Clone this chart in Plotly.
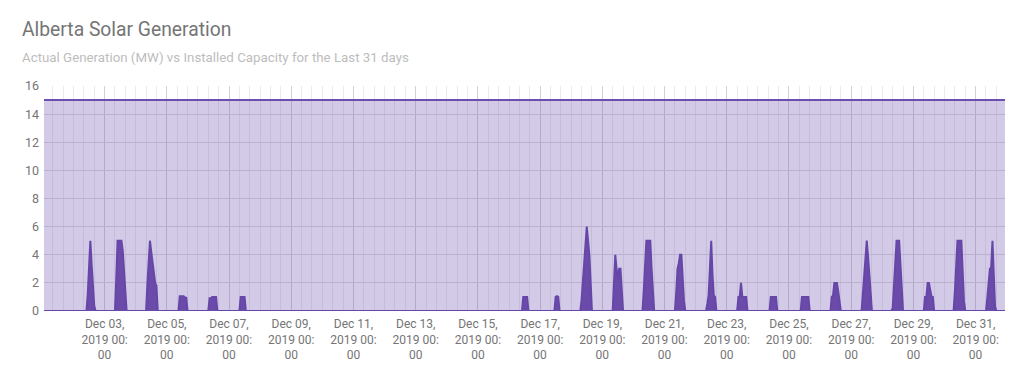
import pandas as pd
import plotly.graph_objects as go

# ---- data ----
capacity_mw = 15

gen_dates = ["2019-12-02", "2019-12-03", "2019-12-04", "2019-12-05", "2019-12-06",
             "2019-12-07", "2019-12-16", "2019-12-17", "2019-12-18", "2019-12-19",
             "2019-12-20", "2019-12-21", "2019-12-22", "2019-12-23", "2019-12-24",
             "2019-12-25", "2019-12-26", "2019-12-27", "2019-12-28", "2019-12-29",
             "2019-12-30", "2019-12-31"]
gen_start_hour = [11, 9, 9, 10, 9,
                  9, 11, 12, 8, 9,
                  8, 9, 9, 9, 10,
                  10, 9, 9, 8, 9,
                  8, 9]
gen_values = [
    [1.2, 3, 5, 3.3, 1.3, 0.4],
    [2.3, 5, 5, 5, 5, 4.3, 2.9, 1.5],
    [1.9, 3.3, 5, 4.2, 3.3, 2.4, 2, 1.8],
    [1.05, 1.05, 1.05, 1.05, 0.95, 0.95],
    [0.9, 0.9, 1.0, 1.0, 1.0, 1.0],
    [1, 1, 1, 1],
    [1, 1, 1, 1],
    [1, 1.05, 1],
    [0.8, 2, 3.3, 4.6, 6, 5, 4, 2],
    [2, 4, 3, 2.3, 3, 3, 1.5],
    [1.5, 3.7, 5, 5, 5, 5, 3, 1],
    [1.3, 3, 3.4, 4, 4, 2.3, 0.7],
    [0.5, 1.1, 3, 5, 2.6, 1.1, 1],
    [1, 1, 2, 1, 1, 1, 1],
    [1, 1, 1, 1, 1],
    [1, 1, 1, 1, 1, 1],
    [1, 1.1, 2, 2, 2, 1.4, 0.6],
    [1.2, 2.3, 3.6, 5, 3.9, 2.5, 1.2],
    [0.2, 1.8, 3.5, 5, 5, 5, 3.3, 1.5],
    [1, 1, 2, 2, 1.5, 1, 1],
    [1.4, 3.7, 5, 5, 5, 5, 2.8, 0.7],
    [0.9, 2.2, 3, 3.1, 5, 2.6, 0.3],
]

tick_dates = ["2019-12-03", "2019-12-05", "2019-12-07", "2019-12-09", "2019-12-11",
              "2019-12-13", "2019-12-15", "2019-12-17", "2019-12-19", "2019-12-21",
              "2019-12-23", "2019-12-25", "2019-12-27", "2019-12-29", "2019-12-31"]
tick_labels = ["Dec 03,<br>2019 00:<br>00", "Dec 05,<br>2019 00:<br>00",
               "Dec 07,<br>2019 00:<br>00", "Dec 09,<br>2019 00:<br>00",
               "Dec 11,<br>2019 00:<br>00", "Dec 13,<br>2019 00:<br>00",
               "Dec 15,<br>2019 00:<br>00", "Dec 17,<br>2019 00:<br>00",
               "Dec 19,<br>2019 00:<br>00", "Dec 21,<br>2019 00:<br>00",
               "Dec 23,<br>2019 00:<br>00", "Dec 25,<br>2019 00:<br>00",
               "Dec 27,<br>2019 00:<br>00", "Dec 29,<br>2019 00:<br>00",
               "Dec 31,<br>2019 00:<br>00"]

# ---- build hourly series ----
hours = pd.date_range("2019-12-01 00:00", "2019-12-31 23:00", freq="h")
gen = pd.Series(0.0, index=hours)
for d, h0, vals in zip(gen_dates, gen_start_hour, gen_values):
    base = pd.Timestamp(d)
    for i, v in enumerate(vals):
        gen[base + pd.Timedelta(hours=h0 + i)] = v
cap = pd.Series(float(capacity_mw), index=hours)

FONT = "Roboto, Arial, sans-serif"
# the page body has an 8px default margin, so the figure sits at (8, 8)
OFF = 8
W, H = 1024 - 2 * OFF, 379 - 2 * OFF
plot_left, plot_right, plot_top, plot_bottom = 44 - OFF, 1005 - OFF, 86 - OFF, 311 - OFF
L, R, T, B = plot_left, W - plot_right, plot_top, H - plot_bottom
PW, PH = plot_right - plot_left, plot_bottom - plot_top

fig = go.Figure()
fig.add_trace(go.Scatter(
    x=hours, y=cap, mode="lines", name="Installed Capacity",
    line=dict(color="#6a4fb0", width=2), fill="tozeroy",
    fillcolor="rgba(105,80,175,0.30)", hoverinfo="skip"))
fig.add_trace(go.Scatter(
    x=hours, y=gen.values, mode="lines", name="Actual Generation",
    line=dict(color="#6647a8", width=2), fill="tozeroy",
    fillcolor="rgba(98,64,165,0.92)"))

fig.update_layout(
    width=W, height=H,
    margin=dict(l=L, r=R, t=T, b=B, autoexpand=False),
    paper_bgcolor="white", plot_bgcolor="white",
    showlegend=False,
    font=dict(family=FONT, color="#757575", size=12),
    xaxis=dict(
        type="date", automargin=False,
        range=["2019-12-01 01:15", "2019-12-31 22:40"],
        tickmode="array", tickvals=tick_dates, ticktext=tick_labels,
        showgrid=True, gridcolor="#d2d2d2", gridwidth=1,
        minor=dict(tickmode="linear", tick0="2019-12-01", dtick=8 * 3600 * 1000,
                   showgrid=True, gridcolor="#ebebeb", gridwidth=1),
        zeroline=False, showline=False, ticks="",
        tickfont=dict(family=FONT, size=12, color="#757575"),
        ticklabelstandoff=4,
    ),
    yaxis=dict(
        automargin=False,
        range=[0, 16], dtick=2, tick0=0,
        showgrid=True, gridcolor="#dcdcdc", gridwidth=1,
        zeroline=False, showline=False, ticks="",
        tickfont=dict(family=FONT, size=12.5, color="#757575"),
        ticklabelstandoff=4,
    ),
    annotations=[
        dict(text="Alberta Solar Generation", xref="paper", yref="paper",
             x=(20 - OFF - L) / PW, y=(plot_bottom - (30 - OFF)) / PH,
             xanchor="left", yanchor="middle",
             showarrow=False, font=dict(family=FONT, size=19.3, color="#757575")),
        dict(text="Actual Generation (MW) vs Installed Capacity for the Last 31 days",
             xref="paper", yref="paper",
             x=(20 - OFF - L) / PW, y=(plot_bottom - (57 - OFF)) / PH,
             xanchor="left", yanchor="middle",
             showarrow=False, font=dict(family=FONT, size=13.3, color="#bdbdbd")),
    ],
)

fig.write_html("out.html")
